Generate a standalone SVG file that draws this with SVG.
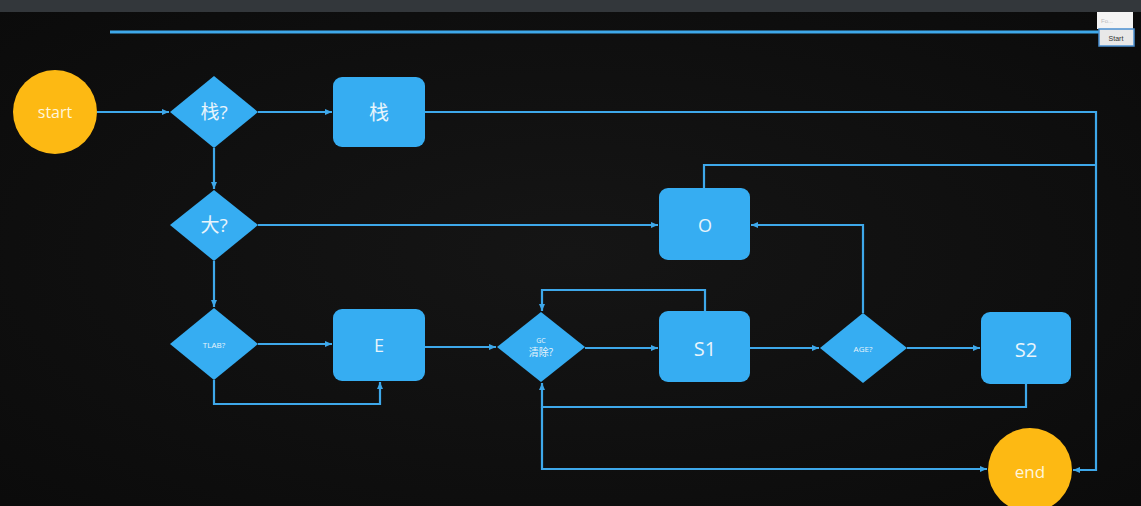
<svg xmlns="http://www.w3.org/2000/svg" width="1141" height="506" viewBox="0 0 1141 506">
<defs>
<marker id="ah" markerWidth="8" markerHeight="8" refX="7" refY="4" orient="auto" markerUnits="userSpaceOnUse">
<path d="M0,1 L7,4 L0,7 Z" fill="#3ea8ea"/>
</marker>
<radialGradient id="bg" cx="50%" cy="50%" r="70%">
<stop offset="0" stop-color="#151515"/>
<stop offset="1" stop-color="#0b0b0b"/>
</radialGradient>
</defs>
<style>
.c{fill:none;stroke:#3ea8ea;stroke-width:2.2}
.box{fill:#36adf2}
.ter{fill:#fdb913}
.t{fill:#e8f4fb;font-family:"Open Sans","Noto Sans CJK SC",sans-serif;text-anchor:middle;dominant-baseline:central}
.tw{fill:#fff6dc;font-family:"Open Sans",sans-serif;text-anchor:middle;dominant-baseline:central}
</style>
<rect x="0" y="0" width="1141" height="506" fill="url(#bg)"/>
<rect x="0" y="0" width="1141" height="12" fill="#33373b"/>
<line x1="110" y1="32" x2="1100" y2="32" stroke="#3ea8ea" stroke-width="3"/>
<g id="ui">
<rect x="1097" y="12" width="36" height="17" fill="#f4f4f4"/>
<text x="1101" y="21" font-family="Liberation Sans,sans-serif" font-size="6" fill="#bbb" dominant-baseline="central">Fo...</text>
<rect x="1099" y="29" width="35" height="17" fill="#e8e8e8" stroke="#4a8fd0" stroke-width="1.5"/>
<text x="1116" y="38" font-family="Liberation Sans,sans-serif" font-size="7" fill="#333" text-anchor="middle" dominant-baseline="central">Start</text>
</g>
<g id="connectors">
<path class="c" d="M97,112 H169" marker-end="url(#ah)"/>
<path class="c" d="M258,112 H332" marker-end="url(#ah)"/>
<path class="c" d="M425,112 H1096 V470 H1073" marker-end="url(#ah)"/>
<path class="c" d="M214,148 V189" marker-end="url(#ah)"/>
<path class="c" d="M258,225 H658" marker-end="url(#ah)"/>
<path class="c" d="M704,188 V165 H1096"/>
<path class="c" d="M214,261 V307" marker-end="url(#ah)"/>
<path class="c" d="M258,344 H332" marker-end="url(#ah)"/>
<path class="c" d="M214,380 V404 H380 V382" marker-end="url(#ah)"/>
<path class="c" d="M425,347 H496" marker-end="url(#ah)"/>
<path class="c" d="M585,348 H658" marker-end="url(#ah)"/>
<path class="c" d="M705,311 V290 H542 V311" marker-end="url(#ah)"/>
<path class="c" d="M750,348 H819" marker-end="url(#ah)"/>
<path class="c" d="M863,313 V225 H751" marker-end="url(#ah)"/>
<path class="c" d="M907,348 H980" marker-end="url(#ah)"/>
<path class="c" d="M1026,384 V407 H542 V383" marker-end="url(#ah)"/>
<path class="c" d="M542,407 V469 H987" marker-end="url(#ah)"/>
</g>
<g id="start"><circle class="ter" cx="55" cy="112" r="42"/><text class="tw" x="55" y="112" font-size="16">start</text></g>
<g id="q-stack"><polygon class="box" points="214,76 258,112 214,148 170,112"/><text class="t" x="214" y="112" font-size="19">栈?</text></g>
<g id="stack"><rect class="box" x="333" y="77" width="92" height="70" rx="9"/><text class="t" x="379" y="112" font-size="20">栈</text></g>
<g id="q-big"><polygon class="box" points="214,190 258,225 214,261 170,225"/><text class="t" x="214" y="225" font-size="19">大?</text></g>
<g id="old"><rect class="box" x="659" y="188" width="91" height="72" rx="9"/><text class="t" x="705" y="225" font-size="18">O</text></g>
<g id="q-tlab"><polygon class="box" points="214,308 258,344 214,380 170,344"/><text class="t" x="214" y="344" font-size="8">TLAB?</text></g>
<g id="eden"><rect class="box" x="333" y="309" width="92" height="72" rx="9"/><text class="t" x="379" y="345" font-size="18">E</text></g>
<g id="q-gc"><polygon class="box" points="541,312 585,347 541,382 497,347"/><text class="t" x="541" y="340" font-size="7">GC</text><text class="t" x="541" y="352" font-size="10">清除?</text></g>
<g id="s1"><rect class="box" x="659" y="311" width="91" height="71" rx="9"/><text class="t" x="705" y="348" font-size="20">S1</text></g>
<g id="q-age"><polygon class="box" points="863,313 907,348 863,383 820,348"/><text class="t" x="863" y="348" font-size="8">AGE?</text></g>
<g id="s2"><rect class="box" x="981" y="312" width="90" height="72" rx="9"/><text class="t" x="1026" y="349" font-size="20">S2</text></g>
<g id="end"><circle class="ter" cx="1030" cy="470" r="42"/><text class="tw" x="1030" y="471" font-size="17">end</text></g>
</svg>
